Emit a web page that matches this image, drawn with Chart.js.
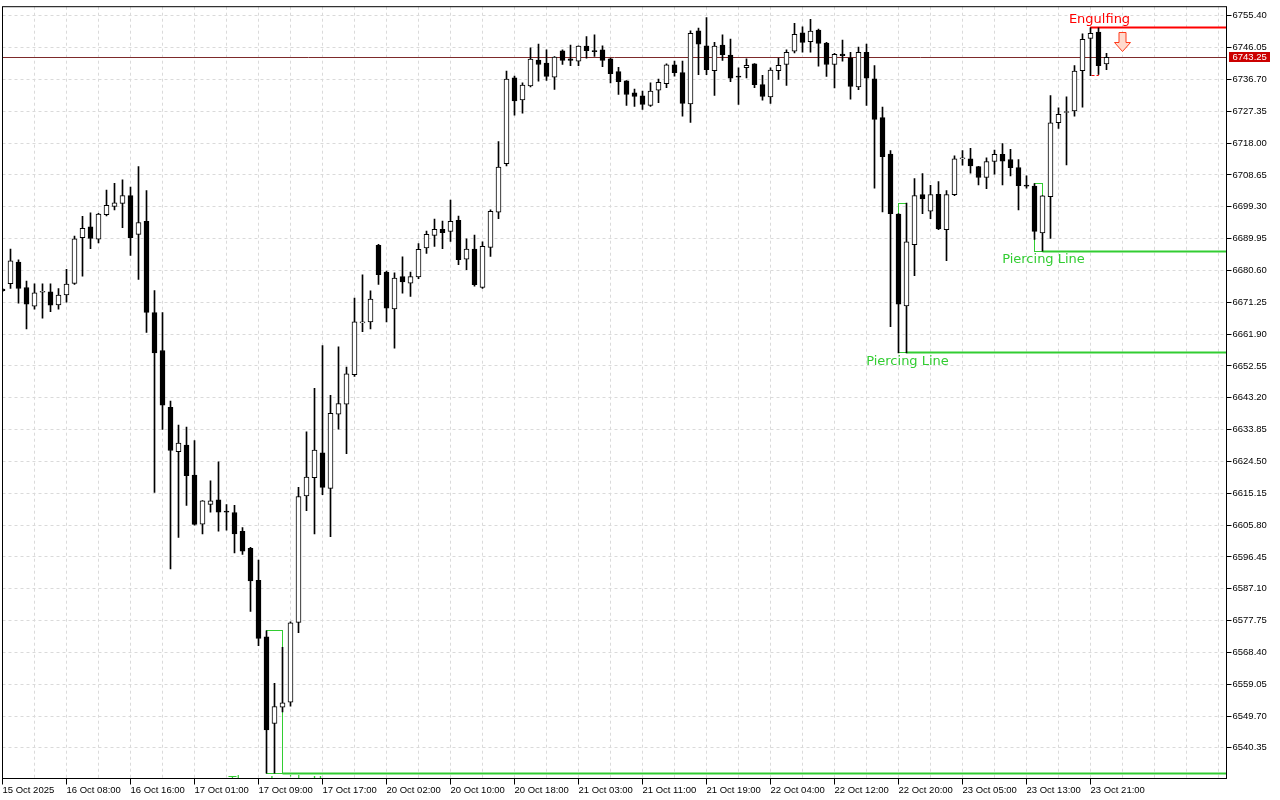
<!DOCTYPE html>
<html>
<head>
<meta charset="utf-8">
<script src="https://cdn.jsdelivr.net/npm/chart.js@4.4.1/dist/chart.umd.min.js"></script>
<style>
  html, body { margin: 0; padding: 0; background: #fff; }
  canvas { display: block; }
</style>
</head>
<body>
<canvas id="chart" width="1280" height="800"></canvas>
<script>
// hourly candles, 16 Oct .. 23 Oct
const opens = [
  6675.1, 6676.7, 6683.1, 6675.6, 6670.1, 6674.2, 6674.3, 6670.5, 6673.4, 6676.8,
  6690.2, 6693.4, 6689.8, 6697.0, 6699.4, 6700.3, 6702.6, 6691.2, 6695.0, 6668.2,
  6657.1, 6640.4, 6627.4, 6629.3, 6620.5, 6606.1, 6611.9, 6613.2, 6609.8, 6609.5,
  6604.0, 6599.0, 6589.6, 6573.0, 6547.5, 6552.3, 6553.8, 6577.2, 6614.4, 6619.7,
  6627.0, 6616.6, 6638.4, 6641.3, 6650.0, 6665.2, 6665.5, 6688.0, 6680.1, 6669.3,
  6678.8, 6676.9, 6678.7, 6687.2, 6690.9, 6692.7, 6692.1, 6695.3, 6683.9, 6686.9,
  6675.6, 6687.4, 6697.7, 6712.0, 6737.2, 6730.7, 6734.8, 6742.4, 6741.5, 6737.4,
  6745.1, 6742.8, 6742.1, 6746.5, 6745.1, 6745.4, 6742.8, 6739.0, 6736.3, 6732.8,
  6731.9, 6729.1, 6733.6, 6735.5, 6741.0, 6738.7, 6729.5, 6751.0, 6746.6, 6739.3,
  6746.8, 6743.9, 6737.6, 6740.2, 6741.3, 6735.2, 6731.6, 6739.3, 6741.1, 6745.0,
  6750.4, 6747.8, 6751.2, 6747.4, 6741.1, 6744.2, 6743.1, 6734.5, 6744.7, 6736.9,
  6725.5, 6714.8, 6697.2, 6670.2, 6688.2, 6702.9, 6698.0, 6703.0, 6692.6, 6702.9,
  6713.4, 6713.4, 6711.1, 6707.9, 6712.6, 6714.7, 6713.2, 6710.8, 6705.6, 6705.4,
  6691.6, 6702.3, 6724.0, 6727.0, 6727.5, 6739.3, 6748.8, 6750.6, 6741.3
];
const highs = [
  6675.3, 6686.9, 6683.7, 6677.5, 6676.7, 6676.7, 6676.7, 6675.3, 6680.9, 6690.7,
  6696.5, 6697.5, 6697.4, 6704.2, 6706.2, 6707.2, 6705.1, 6711.1, 6704.1, 6674.7,
  6668.2, 6642.2, 6635.2, 6634.6, 6630.6, 6613.0, 6618.8, 6624.4, 6611.8, 6611.6,
  6605.1, 6599.3, 6595.5, 6574.7, 6559.3, 6569.9, 6577.4, 6616.9, 6633.2, 6646.0,
  6658.5, 6643.9, 6658.2, 6652.2, 6672.5, 6679.3, 6674.6, 6688.3, 6680.4, 6679.9,
  6684.6, 6680.1, 6688.5, 6692.2, 6695.7, 6695.1, 6701.3, 6696.6, 6689.9, 6691.0,
  6689.0, 6698.4, 6718.5, 6739.2, 6737.7, 6735.7, 6746.0, 6747.1, 6745.4, 6743.4,
  6745.4, 6746.8, 6746.6, 6749.3, 6749.8, 6746.6, 6742.9, 6740.3, 6736.4, 6733.9,
  6733.3, 6735.7, 6736.8, 6741.3, 6742.1, 6742.1, 6751.0, 6751.8, 6754.9, 6747.6,
  6749.8, 6748.6, 6740.1, 6742.8, 6741.4, 6737.9, 6740.1, 6743.0, 6745.4, 6753.2,
  6752.2, 6754.4, 6751.5, 6747.6, 6744.4, 6748.3, 6744.7, 6746.2, 6747.1, 6740.8,
  6728.6, 6715.8, 6697.3, 6700.4, 6707.6, 6709.1, 6705.6, 6706.7, 6704.1, 6714.3,
  6715.8, 6716.5, 6711.2, 6713.7, 6716.0, 6717.9, 6716.2, 6713.2, 6708.4, 6706.1,
  6702.6, 6732.0, 6728.4, 6731.6, 6740.8, 6750.1, 6751.9, 6751.9, 6744.4
];
const lows = [
  6674.4, 6675.3, 6671.0, 6663.4, 6669.2, 6666.6, 6668.5, 6669.2, 6671.3, 6676.5,
  6678.9, 6687.0, 6688.7, 6696.6, 6698.4, 6693.2, 6685.0, 6678.0, 6662.4, 6615.4,
  6633.9, 6592.9, 6602.2, 6611.6, 6605.8, 6603.2, 6609.6, 6604.0, 6604.3, 6597.6,
  6597.2, 6580.4, 6570.4, 6532.9, 6532.9, 6550.9, 6552.6, 6574.2, 6610.0, 6603.2,
  6614.7, 6602.4, 6634.0, 6626.8, 6649.5, 6662.6, 6663.4, 6676.5, 6665.5, 6657.8,
  6673.9, 6673.0, 6678.2, 6685.6, 6687.7, 6687.0, 6689.1, 6682.3, 6680.8, 6676.0,
  6675.3, 6684.7, 6695.8, 6711.3, 6726.2, 6726.8, 6734.5, 6736.2, 6736.4, 6733.8,
  6741.1, 6740.8, 6740.8, 6743.0, 6743.5, 6740.5, 6735.7, 6732.3, 6729.1, 6728.8,
  6727.9, 6728.8, 6729.9, 6734.3, 6737.7, 6725.9, 6724.1, 6738.1, 6738.1, 6732.0,
  6742.3, 6736.1, 6729.4, 6737.2, 6734.3, 6730.6, 6729.7, 6736.7, 6735.0, 6744.5,
  6744.7, 6744.7, 6740.6, 6737.6, 6734.2, 6742.1, 6730.9, 6733.7, 6729.1, 6704.8,
  6697.8, 6664.1, 6656.4, 6656.4, 6679.1, 6697.3, 6695.8, 6692.6, 6683.5, 6702.6,
  6711.5, 6709.2, 6705.7, 6704.6, 6708.9, 6705.7, 6708.4, 6698.4, 6704.8, 6689.7,
  6686.3, 6690.0, 6722.3, 6711.6, 6725.9, 6728.6, 6737.8, 6738.2, 6739.6
];
const closes = [
  6674.7, 6683.4, 6675.3, 6670.7, 6674.0, 6674.4, 6670.4, 6673.4, 6676.6, 6689.9,
  6693.0, 6690.0, 6697.2, 6699.7, 6700.5, 6702.6, 6690.2, 6694.7, 6668.3, 6656.4,
  6641.0, 6627.7, 6629.9, 6620.3, 6606.0, 6612.9, 6612.9, 6609.6, 6609.6, 6603.2,
  6598.1, 6589.4, 6572.5, 6545.6, 6552.5, 6553.6, 6577.1, 6614.2, 6619.9, 6627.8,
  6616.9, 6638.6, 6641.5, 6650.2, 6665.5, 6665.5, 6672.2, 6679.4, 6669.5, 6678.4,
  6677.2, 6678.8, 6686.8, 6691.2, 6692.7, 6691.7, 6695.0, 6683.8, 6686.9, 6676.4,
  6687.7, 6698.0, 6711.0, 6736.8, 6730.4, 6735.1, 6742.7, 6741.1, 6737.6, 6743.3,
  6742.3, 6742.3, 6746.5, 6745.2, 6744.9, 6742.3, 6738.4, 6736.1, 6732.3, 6731.7,
  6729.4, 6733.3, 6735.9, 6741.0, 6738.7, 6729.7, 6750.3, 6747.1, 6739.6, 6746.5,
  6744.0, 6737.1, 6737.4, 6740.9, 6735.2, 6731.7, 6739.5, 6740.9, 6744.7, 6750.0,
  6747.6, 6750.9, 6747.3, 6741.1, 6744.1, 6743.7, 6734.7, 6744.7, 6737.1, 6725.0,
  6714.0, 6697.3, 6670.7, 6689.0, 6702.6, 6701.6, 6702.9, 6692.8, 6702.9, 6713.4,
  6713.6, 6711.3, 6707.9, 6712.6, 6714.7, 6712.7, 6710.8, 6705.5, 6705.4, 6692.1,
  6702.5, 6724.0, 6726.5, 6727.1, 6739.2, 6748.5, 6750.3, 6740.8, 6743.25
];

// one label every 8 bars
const xTickLabels = [
  '15 Oct 2025', '16 Oct 08:00', '16 Oct 16:00', '17 Oct 01:00', '17 Oct 09:00',
  '17 Oct 17:00', '20 Oct 02:00', '20 Oct 10:00', '20 Oct 18:00', '21 Oct 03:00',
  '21 Oct 11:00', '21 Oct 19:00', '22 Oct 04:00', '22 Oct 12:00', '22 Oct 20:00',
  '23 Oct 05:00', '23 Oct 13:00', '23 Oct 21:00'
];
const yTicks = [
  6540.35, 6549.70, 6559.05, 6568.40, 6577.75, 6587.10, 6596.45, 6605.80,
  6615.15, 6624.50, 6633.85, 6643.20, 6652.55, 6661.90, 6671.25, 6680.60,
  6689.95, 6699.30, 6708.65, 6718.00, 6727.35, 6736.70, 6746.05, 6755.40
];
const yMin = 6531.35;
const yMax = 6758.09;
const emptySlots = 15; // chart shift on the right

const patterns = [
  { name: 'Three Inside Up', from: 33, to: 35, kind: 'bull' },
  { name: 'Piercing Line', from: 112, to: 113, kind: 'bull' },
  { name: 'Piercing Line', from: 129, to: 130, kind: 'bull' },
  { name: 'Engulfing', from: 136, to: 137, kind: 'bear' }
];

const gridColor = '#dadada';
const bullColor = '#32cd32';
const bearColor = '#ff0000';
const axisFont = { family: 'Liberation Sans', size: 9.5 };

const slots = Array.from({ length: opens.length + emptySlots }, (_, i) => i);
const bodies = opens.map((o, i) => [o, closes[i]]);
const wicks = lows.map((l, i) => [l, highs[i]]);
const bodyFill = opens.map((o, i) => closes[i] >= o ? '#ffffff' : '#000000');
const lastClose = closes[closes.length - 1];

const crisp = v => Math.round(v - 0.5) + 0.5;

const overlayPlugin = {
  id: 'overlay',
  beforeDatasetsDraw(chart) {
    const { ctx, chartArea: a, scales: { x, y } } = chart;
    ctx.save();
    ctx.beginPath();
    ctx.rect(a.left, a.top, a.width, a.height);
    ctx.clip();

    // bid line
    const py = crisp(y.getPixelForValue(lastClose));
    ctx.strokeStyle = '#7d2a2a';
    ctx.lineWidth = 1;
    ctx.beginPath();
    ctx.moveTo(a.left, py);
    ctx.lineTo(a.right, py);
    ctx.stroke();

    patterns.forEach(p => {
      const color = p.kind === 'bull' ? bullColor : bearColor;
      const hi = Math.max(...highs.slice(p.from, p.to + 1));
      const lo = Math.min(...lows.slice(p.from, p.to + 1));
      const x1 = crisp(x.getPixelForValue(p.from));
      const x2 = crisp(x.getPixelForValue(p.to));
      const yh = crisp(y.getPixelForValue(hi));
      const yl = crisp(y.getPixelForValue(lo));
      ctx.strokeStyle = color;
      ctx.lineWidth = 1;
      ctx.setLineDash(p.kind === 'bear' ? [3, 2] : []);
      ctx.strokeRect(x1, yh, x2 - x1, yl - yh);
      ctx.setLineDash([]);
      ctx.lineWidth = 2;
      ctx.beginPath();
      if (p.kind === 'bull') {
        ctx.moveTo(x2, yl);
        ctx.lineTo(a.right, yl);
      } else {
        ctx.moveTo(x1, yh);
        ctx.lineTo(a.right, yh);
      }
      ctx.stroke();
    });
    ctx.restore();
  },
  afterDatasetsDraw(chart) {
    const { ctx, chartArea: a, scales: { x, y } } = chart;
    ctx.save();
    ctx.beginPath();
    ctx.rect(a.left, a.top, a.width, a.height);
    ctx.clip();
    ctx.font = '13px "DejaVu Sans"';
    ctx.textAlign = 'center';
    ctx.textBaseline = 'middle';
    patterns.forEach(p => {
      const hi = Math.max(...highs.slice(p.from, p.to + 1));
      const lo = Math.min(...lows.slice(p.from, p.to + 1));
      const cx = (x.getPixelForValue(p.from) + x.getPixelForValue(p.to)) / 2 + 5;
      if (p.kind === 'bull') {
        ctx.fillStyle = bullColor;
        ctx.fillText(p.name, cx, y.getPixelForValue(lo) + 8.5);
      } else {
        ctx.fillStyle = bearColor;
        ctx.fillText(p.name, cx, y.getPixelForValue(hi) - 8);
        // down arrow
        const ax = x.getPixelForValue(p.to + 3);
        const top = crisp(y.getPixelForValue(hi)) + 5;
        ctx.beginPath();
        ctx.moveTo(ax - 3.5, top);
        ctx.lineTo(ax + 3.5, top);
        ctx.lineTo(ax + 3.5, top + 10);
        ctx.lineTo(ax + 8, top + 10);
        ctx.lineTo(ax, top + 19);
        ctx.lineTo(ax - 8, top + 10);
        ctx.lineTo(ax - 3.5, top + 10);
        ctx.closePath();
        ctx.fillStyle = '#ffd9cc';
        ctx.fill();
        ctx.strokeStyle = '#ff3a1a';
        ctx.lineWidth = 1;
        ctx.stroke();
      }
    });
    ctx.restore();
  },
  afterDraw(chart) {
    const { ctx, chartArea: a, scales: { y } } = chart;
    ctx.save();
    ctx.strokeStyle = '#000';
    ctx.lineWidth = 1;
    ctx.strokeRect(a.left, a.top, a.width, a.height);

    // price tag on the axis
    const py = Math.round(y.getPixelForValue(lastClose));
    ctx.fillStyle = '#cc0000';
    ctx.fillRect(a.right + 2.5, py - 5, 41, 10);
    ctx.fillStyle = '#ffffff';
    ctx.font = '9.5px "Liberation Sans"';
    ctx.textAlign = 'left';
    ctx.textBaseline = 'middle';
    ctx.fillText(lastClose.toFixed(2), a.right + 6, py + 0.5);
    ctx.restore();
  }
};

new Chart(document.getElementById('chart'), {
  type: 'bar',
  data: {
    labels: slots,
    datasets: [
      {
        data: bodies,
        backgroundColor: bodyFill,
        borderColor: '#000000',
        borderWidth: 1,
        borderSkipped: false,
        barThickness: 5,
        minBarLength: 1,
        grouped: false,
        order: 0
      },
      {
        data: wicks,
        backgroundColor: '#000000',
        borderWidth: 0,
        barThickness: 1,
        grouped: false,
        order: 1
      }
    ]
  },
  options: {
    responsive: false,
    animation: false,
    devicePixelRatio: 1,
    layout: { padding: { left: 2.5, top: 2.5, right: 0, bottom: 0 } },
    plugins: { legend: { display: false }, tooltip: { enabled: false } },
    scales: {
      x: {
        type: 'category',
        offset: false,
        grid: {
          offset: false,
          color: c => c.index % 4 === 0 ? gridColor : 'transparent',
          tickColor: c => (c.index % 8 === 0 && c.index / 8 < xTickLabels.length) ? '#000' : 'transparent',
          tickLength: 6
        },
        border: { display: false, dash: [3, 3] },
        ticks: {
          autoSkip: false,
          maxRotation: 0,
          align: 'start',
          padding: 0,
          color: '#000',
          font: axisFont,
          callback: (v, i) => (i % 8 === 0 && xTickLabels[i / 8]) ? xTickLabels[i / 8] : ''
        },
        afterFit: s => { s.height = 21.5; }
      },
      y: {
        position: 'right',
        min: yMin,
        max: yMax,
        afterBuildTicks: s => { s.ticks = yTicks.map(v => ({ value: v })); },
        grid: { color: gridColor, tickColor: '#000', tickLength: 5 },
        border: { display: false, dash: [3, 3] },
        ticks: {
          padding: 1,
          color: '#000',
          font: axisFont,
          callback: v => v.toFixed(2)
        },
        afterFit: s => { s.width = 53.5; }
      }
    }
  },
  plugins: [overlayPlugin]
});
</script>
</body>
</html>
